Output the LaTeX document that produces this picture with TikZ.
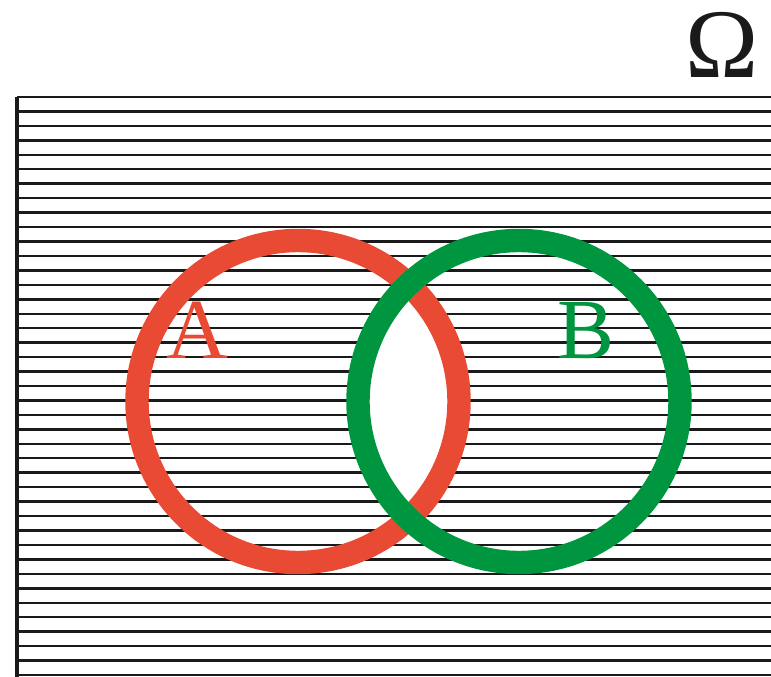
\documentclass[tikz,border=0pt]{standalone}
\usepackage{fontspec}
\setmainfont{Liberation Serif}
\definecolor{setred}{HTML}{E84A33}
\definecolor{setgreen}{HTML}{00963F}
\definecolor{ink}{HTML}{1A1A1A}
\tikzset{
  hatchline/.style={draw=ink,line width=2.1pt},
  ring/.style={line width=20pt},
  setlabel/.style={font=\fontsize{73}{73}\selectfont,inner sep=0pt}
}
\begin{document}
\begin{tikzpicture}[x=0.03cm,y=-0.03cm]
  \useasboundingbox (0,0) rectangle (771,677);
  \coordinate (ca) at (298,401.5);
  \coordinate (cb) at (519,401.5);
  % hatched universe
  \foreach \k in {0,...,40}
    \draw[hatchline] (17,97+\k*14.45) -- (771,97+\k*14.45);
  \draw[ink,line width=2.8pt] (17,97) -- (17,677);
  % intersection left blank
  \begin{scope}
    \clip (ca) circle (161);
    \fill[white] (cb) circle (161);
  \end{scope}
  \draw[ring,setred] (ca) circle (161);
  \draw[ring,setgreen] (cb) circle (161);
  \node[setlabel,text=setred] (lblA) at (197,330) {A};
  \node[setlabel,text=setgreen] (lblB) at (586,331) {B};
  \node[font=\fontsize{84}{84}\selectfont,inner sep=0pt,text=ink] (omega) at (722,45) {Ω};
\end{tikzpicture}
\end{document}
